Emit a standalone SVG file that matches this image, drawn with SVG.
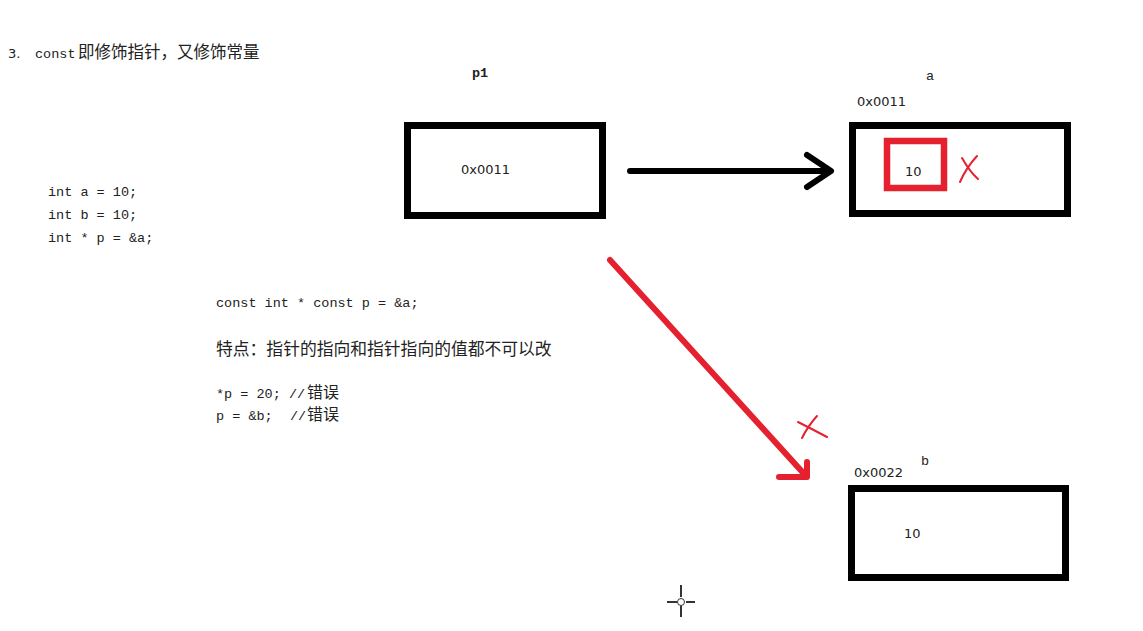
<svg xmlns="http://www.w3.org/2000/svg" width="1143" height="631" viewBox="0 0 1143 631">
<style>
.box{fill:#fff;stroke:#000;stroke-width:7}
.code{font-family:"Liberation Mono","Noto Sans CJK SC",monospace;font-size:13.5px;fill:#222}
.cjk{font-family:"Noto Sans CJK SC","Liberation Sans",sans-serif;fill:#222}
.hex{font-family:"DejaVu Sans","Liberation Sans",sans-serif;font-size:13px;fill:#222}
.red{fill:none;stroke:#e5202f;stroke-linecap:round;stroke-linejoin:round}
</style>
<rect width="1143" height="631" fill="#fff"/>
<g id="title">
<text x="8" y="58" class="hex" font-size="14">3.</text>
<text x="35" y="58" class="code" font-size="14">const</text>
<text x="78" y="58" class="cjk" font-size="16.5">即修饰指针，又修饰常量</text>
</g>
<g id="decl">
<text x="48" y="196" class="code">int a = 10;</text>
<text x="48" y="219" class="code">int b = 10;</text>
<text x="48" y="242" class="code">int * p = &amp;a;</text>
</g>
<g id="notes">
<text x="216" y="307" class="code">const int * const p = &amp;a;</text>
<text x="216" y="355" class="cjk" font-size="16.8">特点：指针的指向和指针指向的值都不可以改</text>
<text x="216" y="398" class="code">*p = 20; //</text>
<text x="307" y="398" class="cjk" font-size="16">错误</text>
<text x="216" y="420" class="code">p = &amp;b;</text>
<text x="290" y="420" class="code">//</text>
<text x="307" y="420" class="cjk" font-size="16">错误</text>
</g>
<g id="p1">
<text x="472" y="77" class="code" font-weight="bold">p1</text>
<rect x="407.5" y="125.5" width="195" height="90" class="box"/>
<text x="461" y="174" class="hex">0x0011</text>
</g>
<g id="a">
<text x="926" y="80" class="code" font-size="12">a</text>
<text x="857" y="106" class="hex">0x0011</text>
<rect x="852.5" y="125.5" width="215" height="88" class="box"/>
<rect x="887" y="141" width="57" height="47" fill="none" stroke="#e5202f" stroke-width="6.5"/>
<text x="905" y="176" class="hex">10</text>
</g>
<g id="b">
<text x="921" y="465" class="code">b</text>
<text x="854" y="477" class="hex">0x0022</text>
<rect x="851.5" y="488.5" width="214" height="89" class="box"/>
<text x="904" y="538" class="hex">10</text>
</g>
<g id="connectors">
<path d="M630 171 H830 M807 155 L831 171 L807 187" fill="none" stroke="#000" stroke-width="6" stroke-linecap="round" stroke-linejoin="round"/>
<path d="M610 260 L806 476 M779 477 H807 V462" class="red" stroke-width="6"/>
</g>
<g id="marks">
<path d="M962 158 Q970 172 978 179 M977 156 Q966 168 960 182" class="red" stroke-width="2"/>
<path d="M798 422 Q812 429 827 437 M817 416 Q808 426 802 438" class="red" stroke-width="2"/>
</g>
<g id="cursor" stroke="#333" stroke-width="2" fill="none">
<path d="M681 585 V597 M681 606 V617 M667 602 H677 M686 602 H695"/>
<circle cx="681" cy="602" r="3.5" stroke-width="1"/>
</g>
</svg>
